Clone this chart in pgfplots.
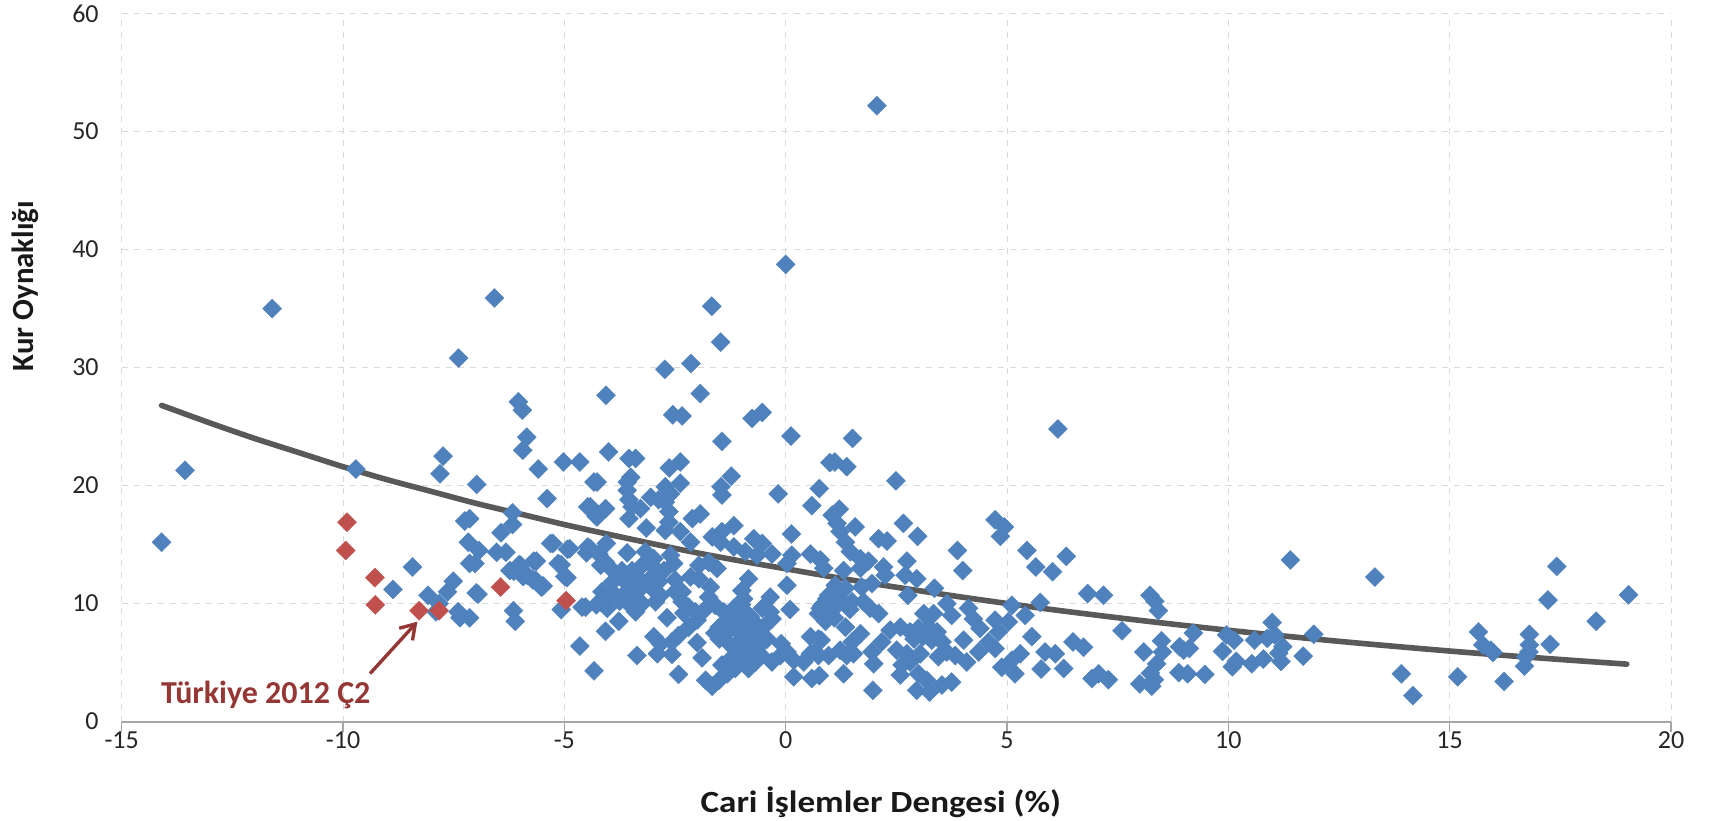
\documentclass[border=0pt]{standalone}
\usepackage{fontspec}
\setmainfont{Carlito}
\usepackage{pgfplots}
\usepackage{pgfplotstable}
\usetikzlibrary{arrows.meta}
\pgfplotsset{compat=1.18}
\definecolor{bluept}{HTML}{4F81BD}
\definecolor{redpt}{HTML}{C0504D}
\definecolor{trend}{HTML}{595959}
\definecolor{lab}{HTML}{953735}
\pgfplotstableread{
x y
-11.6 35.0
-6.58 35.9
-7.39 30.8
-13.57 21.3
-14.1 15.2
-9.71 21.4
-7.74 22.5
-7.81 21.0
-6.98 20.1
-6.04 27.1
-5.95 26.4
-5.85 24.1
-5.94 23.0
-5.59 21.4
-5.02 22.0
-4.65 22.0
-4.33 20.3
-5.39 18.9
-4.47 18.2
-4.28 17.4
-6.17 17.7
-6.17 16.7
-6.43 16.0
-7.25 17.0
-7.14 17.2
-7.17 15.2
-6.93 14.5
-7.14 13.4
-7.02 13.4
-6.53 14.35
-6.32 14.35
-5.69 13.6
-5.31 15.1
-4.93 14.6
-4.47 14.8
-4.5 14.3
-5.14 13.4
-4.99 12.3
-6.02 13.3
-6.23 12.8
-5.93 12.3
-5.71 12.0
-5.52 11.4
-7.51 11.9
-7.64 11.0
-8.08 10.7
-7.83 10.0
-7.9 9.3
-8.43 13.1
-8.87 11.2
-6.99 10.9
-6.95 10.8
-7.4 9.3
-7.36 8.8
-7.14 8.8
-6.15 9.4
-6.11 8.5
-5.07 9.5
-4.6 9.7
-4.28 9.9
-4.65 6.4
-4.33 4.3
-4.06 27.65
-1.93 27.8
-2.55 26.0
-2.34 25.9
-0.76 25.7
-0.53 26.2
-1.44 23.75
0.12 24.2
-4.0 22.85
-3.54 22.3
-3.39 22.3
-2.38 22.0
-2.63 21.5
1.0 21.95
-1.23 20.8
-1.46 19.9
-1.44 19.2
-4.26 20.3
-3.5 20.7
-3.58 20.3
-3.58 19.6
-2.38 20.2
-2.72 19.9
-2.6 19.3
-3.05 19.0
-2.87 18.8
-2.72 18.6
-3.54 18.8
-3.28 18.05
-3.47 18.2
-0.17 19.3
0.76 19.75
0.59 18.3
-4.41 18.2
-4.07 18.05
-4.26 17.35
-3.54 17.2
-2.64 17.8
-2.64 16.9
-2.11 17.2
-1.93 17.6
-3.15 16.4
-2.72 16.2
-2.38 16.1
-2.15 15.2
-1.17 16.6
-1.44 16.1
-1.66 15.65
-1.47 15.2
0.13 15.9
-0.72 15.5
-0.53 15.1
-1.17 14.8
-0.91 14.4
-0.31 14.2
-0.65 14.1
0.14 14.1
0.56 14.2
0.78 13.7
0.86 13.0
-5.26 15.1
-4.88 14.65
-4.41 14.65
-4.05 15.1
-4.22 14.2
-4.07 13.5
-3.58 14.3
-3.17 14.4
-2.98 13.8
-3.24 13.25
-2.6 14.1
-2.53 13.4
-2.75 12.8
-1.96 13.25
-1.55 12.97
-1.74 13.5
0.03 13.4
0.03 11.55
-5.63 13.6
-5.07 13.3
-4.94 12.2
-5.99 13.25
-6.14 12.75
-5.84 12.4
-5.65 12.0
-5.48 11.5
-4.18 13.25
-3.88 12.7
-3.69 12.1
-3.92 11.8
-3.47 12.8
-3.32 12.1
-3.5 11.55
-2.94 12.95
-2.87 11.85
-2.94 11.0
-2.15 12.25
-1.96 12.1
-2.34 11.0
-0.84 12.1
-0.99 11.1
-0.95 10.4
-1.7 11.4
-1.74 10.55
-0.35 10.55
-0.53 9.6
0.1 9.5
0.97 10.7
0.82 9.85
0.97 9.6
0.74 9.15
-4.15 11.0
-4.0 10.4
-3.88 10.85
-4.18 10.15
-4.03 9.6
-4.52 9.7
-3.77 8.5
-4.07 7.65
-3.43 10.4
-3.24 10.0
-3.39 9.3
-2.83 10.7
-2.94 10.15
-2.68 8.8
-2.34 10.15
-2.19 9.7
-2.04 9.3
-1.85 9.4
-2.0 8.6
-2.19 8.0
-2.42 7.3
-2.57 6.75
-1.59 9.85
-1.4 9.3
-1.17 9.6
-2.98 7.2
-2.83 6.6
-2.9 5.75
-2.57 5.7
-2.0 6.7
-1.89 5.4
-3.36 5.6
-2.42 4.0
-1.66 3.0
-1.81 3.5
-1.51 3.5
-1.32 4.05
-1.14 4.5
-1.44 4.8
-1.25 5.3
-0.99 5.05
-0.84 4.5
-0.68 5.05
-1.1 5.9
-0.91 6.2
-0.72 5.6
-1.06 6.75
-0.84 6.75
-0.57 6.5
-1.25 6.5
-1.06 7.6
-0.84 7.6
-0.61 7.3
-0.42 7.0
-1.21 8.45
-0.99 8.3
-0.72 8.45
-0.5 8.0
-0.31 8.7
-0.35 9.3
-1.14 9.3
-1.32 7.6
-0.31 5.05
-0.12 5.6
0.03 5.9
0.18 5.2
0.41 5.05
0.56 5.75
0.74 5.6
0.18 3.8
0.59 3.65
0.76 3.9
0.56 7.2
0.74 7.0
0.97 5.6
1.51 24.0
1.11 22.0
1.38 21.6
2.49 20.4
1.21 18.0
1.05 17.5
1.16 16.8
1.57 16.5
1.23 16.1
1.35 15.2
2.66 16.8
2.98 15.7
2.1 15.5
2.29 15.3
4.73 17.1
4.94 16.5
4.85 15.7
3.88 14.5
4.0 12.8
5.45 14.5
5.65 13.1
6.03 12.7
6.34 14.0
6.82 10.85
7.18 10.7
7.6 7.7
1.46 14.4
1.69 13.8
1.87 13.6
1.69 13.0
1.31 12.8
2.21 13.1
2.25 12.4
1.95 11.7
1.72 11.4
2.74 13.6
2.7 12.4
2.96 12.1
2.76 10.7
1.12 11.55
1.35 11.3
3.36 11.3
3.64 10.0
3.75 9.0
3.12 9.15
3.34 9.15
4.13 9.6
4.24 8.7
4.39 7.9
4.73 8.6
5.11 9.85
5.41 9.0
5.75 10.1
5.03 8.45
4.81 7.6
4.58 6.75
4.36 5.9
4.02 6.9
3.83 5.6
4.09 5.05
4.73 6.2
0.93 10.4
0.78 9.6
0.97 9.3
1.16 9.85
1.5 10.15
1.76 10.15
1.91 9.6
2.1 9.15
1.35 8.0
1.69 7.45
1.5 6.75
1.23 6.05
1.38 5.6
1.53 5.75
1.31 4.05
1.99 4.9
1.97 2.65
1.95 5.9
2.17 6.75
2.36 7.75
2.59 8.0
2.81 7.6
3.0 7.9
3.23 8.0
3.42 7.6
3.53 6.75
3.64 5.9
3.45 5.5
2.51 6.05
2.74 5.75
3.04 5.75
2.63 4.8
2.81 5.05
2.59 3.95
3.0 4.05
2.96 2.65
3.25 2.5
3.53 3.1
3.75 3.35
3.19 3.5
4.88 4.6
5.11 5.2
5.3 5.75
5.18 4.05
5.77 4.45
6.28 4.5
5.56 7.2
5.86 5.9
6.09 5.75
6.49 6.75
6.73 6.3
6.92 3.65
7.07 4.05
7.29 3.55
8.23 10.7
8.34 10.2
8.42 9.4
8.09 5.9
8.49 6.85
8.51 5.9
8.9 6.35
8.99 6.05
9.12 6.2
9.21 7.5
8.38 4.9
8.24 4.1
8.33 3.55
8.0 3.2
8.27 3.0
8.88 4.15
9.08 4.05
9.47 4.0
9.87 5.95
9.96 7.35
10.13 6.9
10.18 5.1
10.09 4.65
10.53 4.9
10.79 5.3
10.59 6.9
10.88 7.05
10.99 8.4
11.05 7.35
11.23 6.35
11.14 5.8
11.19 5.1
11.4 13.7
11.93 7.4
11.69 5.55
13.31 12.25
13.91 4.05
14.17 2.2
15.18 3.8
15.65 7.6
15.75 6.5
15.93 6.05
15.98 5.85
16.23 3.4
16.69 4.7
16.8 7.4
16.8 6.5
16.79 5.9
16.72 5.5
17.27 6.55
17.22 10.3
17.42 13.15
18.31 8.5
19.04 10.75
2.06 52.2
0.0 38.75
-1.67 35.2
-1.47 32.15
-2.14 30.35
-2.73 29.85
6.15 24.8
-3.6 11.0
-3.3 11.2
-3.1 12.0
-3.7 12.8
-2.5 12.0
-2.5 11.0
-2.3 9.2
-1.5 8.0
-1.6 7.5
-1.5 7.0
-1.3 8.5
-0.9 9.2
-0.1 6.6
1.1 8.8
0.9 8.5
1.2 10.5
1.45 9.5
0.67 5.9
0.8 6.9
3.1 7.2
3.3 6.9
2.9 7.0
-1.0 9.9
-0.65 7.9
-0.8 8.9
-1.05 5.1
-0.55 5.6
-3.75 10.2
-3.55 10.0
-3.2 11.6
}\bluedata
\pgfplotstableread{
x y
-9.91 16.9
-9.94 14.5
-9.28 12.2
-9.27 9.9
-8.28 9.4
-7.83 9.4
-6.44 11.4
-4.96 10.25
}\reddata
\pgfplotstableread{
x y
-14.1 26.8
-13 25.3
-12 24.0
-11 22.8
-10 21.6
-9 20.5
-8 19.5
-7 18.5
-6 17.6
-5 16.7
-4 15.87
-3 15.07
-2 14.3
-1 13.6
0 12.95
1 12.3
2 11.68
3 11.1
4 10.54
5 10.01
6 9.5
7 9.03
8 8.58
9 8.15
10 7.74
11 7.35
12 6.98
13 6.63
14 6.3
15 5.98
16 5.68
17 5.4
18 5.13
19 4.87
}\trenddata
\begin{document}
\begin{tikzpicture}[x=1pt,y=1pt]
\useasboundingbox (0,0) rectangle (854.5,410);
\begin{axis}[
  at={(60.85pt,49.2pt)}, anchor=south west,
  scale only axis, width=774.65pt, height=354pt,
  xmin=-15, xmax=20, ymin=0, ymax=60,
  xtick={-15,-10,...,20}, ytick={0,10,...,60},
  axis x line*=bottom, axis y line*=left,
  x axis line style={draw=black!35,line width=0.9pt,-},
  y axis line style={draw=none,-},
  grid=major,
  major grid style={draw=black!15,dashed,line width=0.5pt},
  x tick style={draw=black!35,line width=0.8pt},
  y tick style={draw=none},
  tick align=outside, major tick length=5pt,
  xticklabel style={yshift=3.4pt},
  yticklabel style={xshift=-3pt},
  /pgf/number format/assume math mode=true,
  tick label style={font=\fontsize{13}{15}\selectfont,text=black!85},
  every axis x label/.style={at={(axis description cs:0.49,-0.114)},anchor=center,xscale=1.14},
  every axis y label/.style={at={(axis description cs:-0.0625,0.615)},anchor=center,rotate=90},
  label style={font=\bfseries\fontsize{15.4}{17}\selectfont,text=black!90},
  xlabel={Cari İşlemler Dengesi (\%)},
  ylabel={Kur Oynaklığı},
  clip=false,
]
\addplot[only marks,mark=square*,mark size=3.4pt,
  mark options={rotate=45,fill=bluept,draw=bluept,line width=0.1pt}] table[x=x,y=y] {\bluedata};
\addplot[only marks,mark=square*,mark size=3.4pt,
  mark options={rotate=45,fill=redpt,draw=redpt,line width=0.1pt}] table[x=x,y=y] {\reddata};
\addplot[no marks,draw=trend,line width=2.8pt,line cap=round,smooth] table[x=x,y=y] {\trenddata};
\draw[->,>={Straight Barb[length=7pt,width=9pt]},draw=lab,line width=1.7pt]
  (axis cs:-9.39,4.07) -- (axis cs:-8.32,8.47);
\node[anchor=base west,inner sep=0pt,text=lab,font=\bfseries\fontsize{16}{18}\selectfont]
  at (axis cs:-14.12,1.5) {Türkiye 2012 Ç2};
\end{axis}
\end{tikzpicture}
\end{document}
